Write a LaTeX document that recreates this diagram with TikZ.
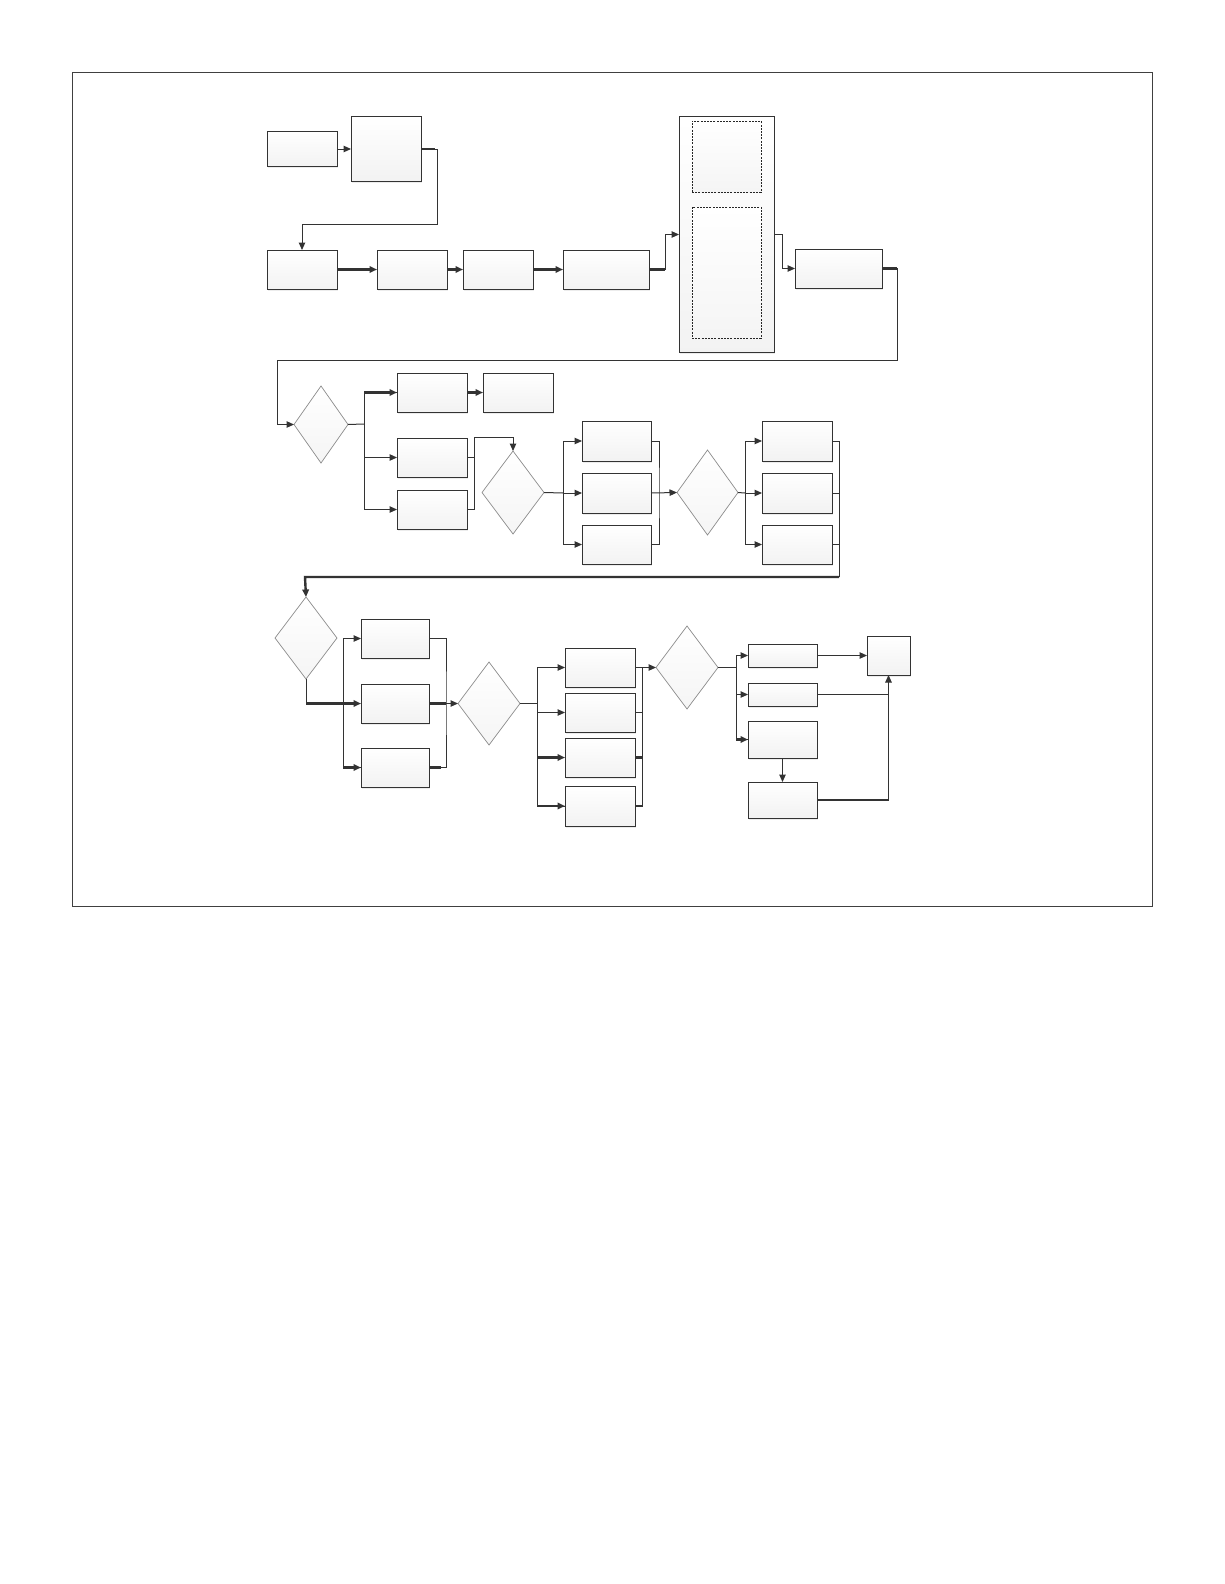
\documentclass[tikz,border=0pt]{standalone}
\usetikzlibrary{arrows.meta,shapes.geometric,shadows}
\begin{document}
\begin{tikzpicture}[x=1pt,y=-1pt,
  box/.style={draw=black!80,line width=1pt,top color=white,bottom color=black!5,inner sep=0pt,outer sep=0pt,
    drop shadow={shadow xshift=1.2pt,shadow yshift=-1.5pt,fill=black!12,opacity=0.6}},
  dbox/.style={draw=black!85,dashed,line width=0.7pt,dash pattern=on 2pt off 1.2pt,top color=white,bottom color=black!4,inner sep=0pt,outer sep=0pt},
  dia/.style={diamond,draw=black!45,line width=0.7pt,top color=white,bottom color=black!4,inner sep=0pt,outer sep=0pt},
  ln/.style={draw=black!80,line width=1pt},
  tk/.style={draw=black!80,line width=2.4pt},
  arr/.style={-{Triangle[length=7.5pt,width=6.5pt]}}]
\useasboundingbox (0,0) rectangle (1224,1584);
\fill[white] (0,0) rectangle (1224,1584);
\draw[black!75,line width=0.9pt] (72,72) rectangle (1152,906);
\newcommand\bx[6][box]{\node[#1,minimum width={(#5-#3)*1pt},minimum height={(#6-#4)*1pt}] (#2) at ({(#3+#5)/2},{(#4+#6)/2}) {};}
\newcommand\dm[5]{\pgfmathsetmacro\myasp{(#4-#2)/(#5-#3)}\node[dia,minimum width={(#4-#2)*1pt},minimum height={(#5-#3)*1pt},aspect=\myasp] (#1) at ({(#2+#4)/2},{(#3+#5)/2}) {};}
% row 1
\bx{A}{267}{132}{337}{166}
\bx{B}{351}{117}{421}{181}
\bx{C}{267}{250}{337}{289}
\bx{D}{377}{250}{447}{289}
\bx{E}{463}{250}{533}{289}
\bx{F}{563}{250}{649}{289}
\bx{K}{679}{117}{774}{352}
\bx[dbox]{K1}{692}{121}{761}{192}
\bx[dbox]{K2}{692}{207}{761}{338}
\bx{G}{795}{249}{882}{288}
% row 2
\dm{D1}{294}{386}{348}{463}
\bx{H1}{397}{373}{467}{412}
\bx{H2}{483}{373}{553}{412}
\bx{H3}{397}{438}{467}{477}
\bx{H4}{397}{490}{467}{529}
\dm{D2}{482}{451}{544}{534}
\bx{I1}{582}{421}{651}{461}
\bx{I2}{582}{473}{651}{513}
\bx{I3}{582}{525}{651}{564}
\dm{D3}{677}{450}{738}{535}
\bx{J1}{762}{421}{832}{461}
\bx{J2}{762}{473}{832}{513}
\bx{J3}{762}{525}{832}{564}
% row 3
\dm{D4}{275}{597}{337}{679}
\bx{L1}{361}{619}{429}{658}
\bx{L2}{361}{684}{429}{723}
\bx{L3}{361}{748}{429}{787}
\dm{D5}{458}{662}{520}{745}
\bx{M1}{565}{648}{635}{687}
\bx{M2}{565}{693}{635}{732}
\bx{M3}{565}{738}{635}{777}
\bx{M4}{565}{786}{635}{826}
\dm{D6}{656}{626}{718}{709}
\bx{N1}{748}{644}{817}{667}
\bx{N2}{748}{683}{817}{706}
\bx{N3}{748}{721}{817}{758}
\bx{N4}{748}{782}{817}{818}
\bx{P}{867}{636}{910}{675}
% ---- connectors row 1
\draw[ln,arr] (A.east) -- (B.west);
\coordinate (b1) at (437,224);
\draw[ln,arr] (B.east) -| (b1) -| (C.north);
\draw[tk,line width=2pt] (B.east) -- ++(14,0);
\draw[tk,arr] (C.east) -- (D.west);
\draw[tk,arr] (D.east) -- (E.west);
\draw[tk,arr] (E.east) -- (F.west);
\draw[ln,arr] (F.east) -- ++(16,0) |- (K.west);
\draw[tk] (F.east) -- ++(16,0);
\draw[ln,arr] (K.east) -- ++(8,0) |- (G.west);
\coordinate (g1) at (897,360);
\coordinate (g2) at (277,360);
\draw[ln,arr] (G.east) -| (g1) -- (g2) |- (D1.west);
\draw[tk] (G.east) -- ++(15,0);
% row 2
\coordinate (t1) at (364,424);
\draw[ln] (D1.east) -- (t1);
\draw[ln] (t1) |- (H1.west);
\draw[tk,arr] (t1 |- H1.west) -- (H1.west);
\draw[ln,arr] (t1) |- (H3.west);
\draw[ln,arr] (t1) |- (H4.west);
\draw[tk,arr] (H1.east) -- (H2.west);
\coordinate (h1) at (474,437);
\coordinate (h2) at (513,437);
\draw[ln] (H3.east) -- (H3.east -| h1);
\draw[ln,arr] (H4.east) -| (h1) -- (h2) -- (D2.north);
\coordinate (t2) at (563,493);
\draw[ln] (D2.east) -- (t2);
\draw[ln,arr] (t2) |- (I1.west);
\draw[ln,arr] (t2) -- (I2.west);
\draw[ln,arr] (t2) |- (I3.west);
\coordinate (o1) at (659,493);
\draw[ln] (I1.east) -| (o1) |- (I3.east);
\draw[ln,arr] (I2.east) -- (D3.west);
\coordinate (t3) at (745,493);
\draw[ln] (D3.east) -- (t3);
\draw[ln,arr] (t3) |- (J1.west);
\draw[ln,arr] (t3) -- (J2.west);
\draw[ln,arr] (t3) |- (J3.west);
\coordinate (o2) at (839,577);
\coordinate (o3) at (305,577);
\draw[ln] (J1.east) -| (o2);
\draw[ln] (J2.east) -- (J2.east -| o2);
\draw[ln] (J3.east) -- (J3.east -| o2);
\draw[tk,arr] (o2) -- (o3) -- (D4.north);
% row 3
\coordinate (t4) at (343,703.5);
\draw[ln] (D4.south) |- (t4);
\draw[tk] (D4.south |- t4) -- (t4);
\draw[tk,arr] (t4) -- (L2.west);
\draw[ln,arr] (t4) |- (L1.west);
\draw[ln] (t4) |- (L3.west);
\draw[tk,arr] (t4 |- L3.west) -- (L3.west);
\coordinate (o4) at (446,703.5);
\draw[ln] (L1.east) -| (o4) |- (L3.east);
\draw[tk] (L3.east) -- ++(12,0);
\draw[tk] (L2.east) -- (o4);
\draw[ln,arr] (o4) -- (D5.west);
\coordinate (t5) at (537,703.5);
\draw[ln] (D5.east) -- (t5);
\draw[ln,arr] (t5) |- (M1.west);
\draw[ln,arr] (t5) |- (M2.west);
\draw[ln] (t5) |- (M4.west);
\draw[tk,arr] (t5 |- M3.west) -- (M3.west);
\draw[tk,arr] (t5 |- M4.west) -- (M4.west);
\coordinate (o5) at (642,667.5);
\draw[ln] (M1.east) -- (o5) |- (M4.east);
\draw[ln] (M2.east) -- (M2.east -| o5);
\draw[tk] (M3.east) -- (M3.east -| o5);
\draw[tk] (M4.east) -- (M4.east -| o5);
\draw[ln,arr] (M1.east) -- (D6.west);
\coordinate (t6) at (736,667.5);
\draw[ln] (D6.east) -- (t6);
\draw[ln,arr] (t6) |- (N1.west);
\draw[ln,arr] (t6) |- (N2.west);
\draw[ln] (t6) |- (N3.west);
\draw[tk,arr] (t6 |- N3.west) -- (N3.west);
\draw[ln,arr] (N1.east) -- (P.west);
\draw[ln,arr] (N3.south) -- (N4.north);
\draw[ln] (N2.east) -- (N2.east -| P.south);
\draw[tk] (N4.east) -- (N4.east -| P.south);
\draw[ln,arr] (N4.east) -| (P.south);
\end{tikzpicture}
\end{document}
